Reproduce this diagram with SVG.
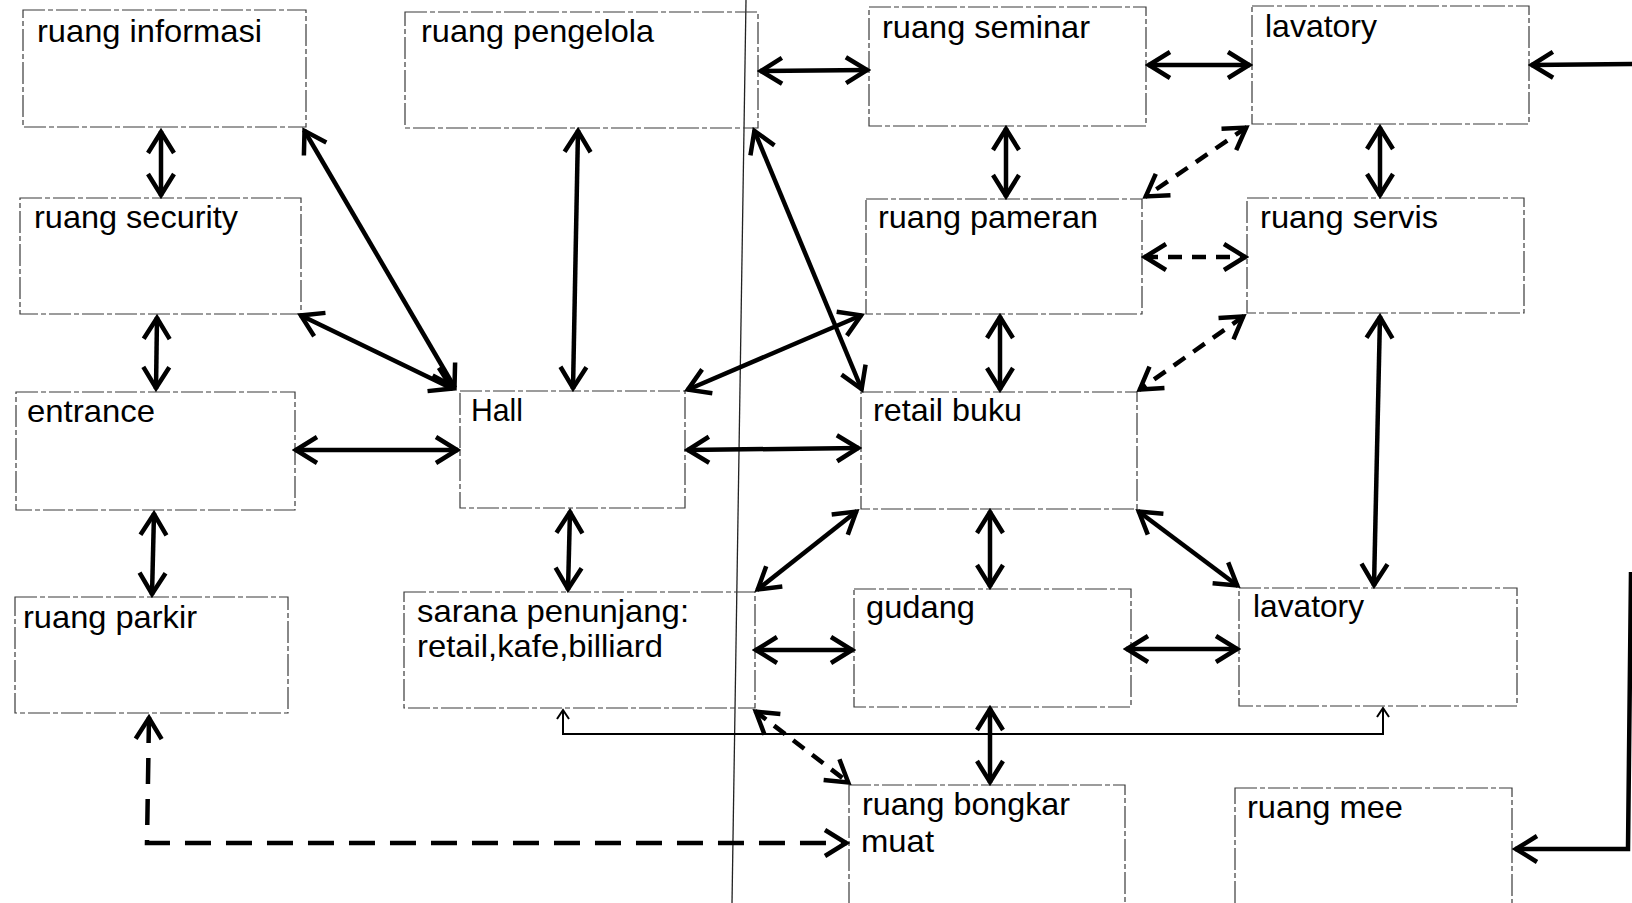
<svg xmlns="http://www.w3.org/2000/svg" width="1632" height="903" viewBox="0 0 1632 903">
  <style>
    .box { fill: none; stroke: #3a3a3a; stroke-width: 1.2; stroke-dasharray: 22 3 5 3; }
    .lbl { font-family: "Liberation Sans", Arial, sans-serif; font-size: 32px; fill: #000; }
    .link { fill: none; stroke: #000; stroke-width: 4.5; }
    .dash { stroke-dasharray: 14 10; }
    .dash-long { stroke-dasharray: 26 15; }
    .thin { fill: none; stroke: #000; stroke-width: 2; }
    .rule { fill: none; stroke: #222; stroke-width: 1.3; }
  </style>
  <defs>
    <marker id="arrow" viewBox="-28 -18 32 36" refX="1" refY="0" markerWidth="32" markerHeight="36" markerUnits="userSpaceOnUse" orient="auto-start-reverse">
      <path d="M-21,-13 L0,0 L-21,13" fill="none" stroke="#000" stroke-width="4.5" stroke-dasharray="none"/>
    </marker>
    <marker id="arrow-sm" viewBox="-12 -8 14 16" refX="0" refY="0" markerWidth="14" markerHeight="16" markerUnits="userSpaceOnUse" orient="auto-start-reverse">
      <path d="M-9,-6 L0,0 L-9,6" fill="none" stroke="#000" stroke-width="2" stroke-dasharray="none"/>
    </marker>
  </defs>

  <rect width="1632" height="903" fill="#fff"/>

  <!-- dividing line through the sheet -->
  <line class="rule" x1="746" y1="0" x2="732" y2="903"/>

  <!-- rooms -->
  <g id="ruang-informasi">
    <rect class="box" x="23" y="10" width="283" height="117"/>
    <text class="lbl" x="37" y="42" textLength="225" lengthAdjust="spacingAndGlyphs">ruang informasi</text>
  </g>
  <g id="ruang-pengelola">
    <rect class="box" x="405" y="12" width="353" height="116"/>
    <text class="lbl" x="421" y="42" textLength="233" lengthAdjust="spacingAndGlyphs">ruang pengelola</text>
  </g>
  <g id="ruang-security">
    <rect class="box" x="20" y="198" width="281" height="116"/>
    <text class="lbl" x="34" y="228" textLength="204" lengthAdjust="spacingAndGlyphs">ruang security</text>
  </g>
  <g id="entrance">
    <rect class="box" x="16" y="392" width="279" height="118"/>
    <text class="lbl" x="27" y="422" textLength="128" lengthAdjust="spacingAndGlyphs">entrance</text>
  </g>
  <g id="hall">
    <rect class="box" x="460" y="391" width="225" height="117"/>
    <text class="lbl" x="471" y="421" textLength="52" lengthAdjust="spacingAndGlyphs">Hall</text>
  </g>
  <g id="ruang-parkir">
    <rect class="box" x="15" y="597" width="273" height="116"/>
    <text class="lbl" x="23" y="628" textLength="174" lengthAdjust="spacingAndGlyphs">ruang parkir</text>
  </g>
  <g id="sarana-penunjang">
    <rect class="box" x="404" y="592" width="351" height="116"/>
    <text class="lbl" x="417" y="622" textLength="272" lengthAdjust="spacingAndGlyphs">sarana penunjang:</text>
    <text class="lbl" x="417" y="657" textLength="246" lengthAdjust="spacingAndGlyphs">retail,kafe,billiard</text>
  </g>
  <g id="ruang-seminar">
    <rect class="box" x="869" y="7" width="277" height="119"/>
    <text class="lbl" x="882" y="38" textLength="208" lengthAdjust="spacingAndGlyphs">ruang seminar</text>
  </g>
  <g id="lavatory-atas">
    <rect class="box" x="1252" y="6" width="277" height="118"/>
    <text class="lbl" x="1265" y="37" textLength="112" lengthAdjust="spacingAndGlyphs">lavatory</text>
  </g>
  <g id="ruang-pameran">
    <rect class="box" x="866" y="199" width="276" height="115"/>
    <text class="lbl" x="878" y="228" textLength="220" lengthAdjust="spacingAndGlyphs">ruang pameran</text>
  </g>
  <g id="ruang-servis">
    <rect class="box" x="1247" y="198" width="277" height="115"/>
    <text class="lbl" x="1260" y="228" textLength="178" lengthAdjust="spacingAndGlyphs">ruang servis</text>
  </g>
  <g id="retail-buku">
    <rect class="box" x="861" y="392" width="276" height="117"/>
    <text class="lbl" x="873" y="421" textLength="149" lengthAdjust="spacingAndGlyphs">retail buku</text>
  </g>
  <g id="gudang">
    <rect class="box" x="854" y="589" width="277" height="118"/>
    <text class="lbl" x="866" y="618" textLength="109" lengthAdjust="spacingAndGlyphs">gudang</text>
  </g>
  <g id="lavatory-bawah">
    <rect class="box" x="1239" y="588" width="278" height="118"/>
    <text class="lbl" x="1253" y="617" textLength="111" lengthAdjust="spacingAndGlyphs">lavatory</text>
  </g>
  <g id="ruang-bongkar-muat">
    <rect class="box" x="849" y="785" width="276" height="130"/>
    <text class="lbl" x="862" y="815" textLength="208" lengthAdjust="spacingAndGlyphs">ruang bongkar</text>
    <text class="lbl" x="861" y="852" textLength="73" lengthAdjust="spacingAndGlyphs">muat</text>
  </g>
  <g id="ruang-mee">
    <rect class="box" x="1235" y="788" width="277" height="127"/>
    <text class="lbl" x="1247" y="818" textLength="156" lengthAdjust="spacingAndGlyphs">ruang mee</text>
  </g>

  <!-- connectors -->
  <g id="connectors">
    <g marker-start="url(#arrow)" marker-end="url(#arrow)">
      <line class="link" x1="161" y1="131" x2="161" y2="196"/>
      <line class="link" x1="157" y1="317" x2="156" y2="389"/>
      <line class="link" x1="154" y1="513" x2="152" y2="595"/>
      <line class="link" x1="304" y1="130" x2="455" y2="388"/>
      <line class="link" x1="300" y1="315" x2="453" y2="389"/>
      <line class="link" x1="578" y1="130" x2="573" y2="389"/>
      <line class="link" x1="295" y1="450" x2="458" y2="450"/>
      <line class="link" x1="687" y1="450" x2="859" y2="448"/>
      <line class="link" x1="570" y1="511" x2="568" y2="590"/>
      <line class="link" x1="687" y1="390" x2="862" y2="315"/>
      <line class="link" x1="754" y1="130" x2="862" y2="390"/>
      <line class="link" x1="760" y1="71" x2="868" y2="70"/>
      <line class="link" x1="1148" y1="65" x2="1250" y2="65"/>
      <line class="link" x1="1006" y1="128" x2="1006" y2="197"/>
      <line class="link" x1="1380" y1="127" x2="1380" y2="196"/>
      <line class="link" x1="1000" y1="316" x2="1000" y2="390"/>
      <line class="link" x1="1380" y1="316" x2="1374" y2="586"/>
      <line class="link" x1="857" y1="511" x2="757" y2="590"/>
      <line class="link" x1="990" y1="511" x2="990" y2="587"/>
      <line class="link" x1="1138" y1="511" x2="1238" y2="586"/>
      <line class="link" x1="755" y1="650" x2="853" y2="650"/>
      <line class="link" x1="1126" y1="649" x2="1238" y2="649"/>
      <line class="link" x1="990" y1="708" x2="990" y2="783"/>
      <line class="link dash" x1="1247" y1="127" x2="1145" y2="197"/>
      <line class="link dash" x1="1144" y1="257" x2="1246" y2="257"/>
      <line class="link dash" x1="1244" y1="316" x2="1139" y2="390"/>
      <line class="link dash" x1="755" y1="711" x2="849" y2="783"/>
      <path class="link dash-long" d="M149,717 L147,843 L847,843"/>
    </g>
    <line class="link" x1="1634" y1="64" x2="1531" y2="65" marker-end="url(#arrow)"/>
    <path class="link" d="M1631,572 L1628,849 L1515,849" marker-end="url(#arrow)"/>
    <path class="thin" d="M563,710 L563,734 L1383,734 L1383,708" marker-start="url(#arrow-sm)" marker-end="url(#arrow-sm)"/>
  </g>
</svg>
